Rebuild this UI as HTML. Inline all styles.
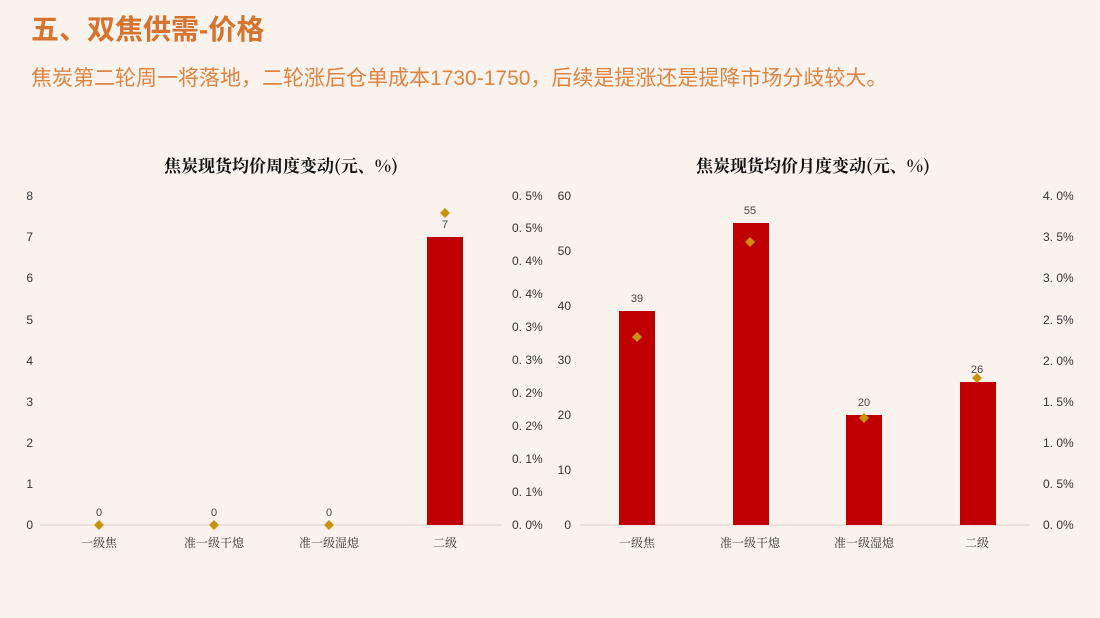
<!DOCTYPE html>
<html><head><meta charset="utf-8"><style>
body{margin:0;width:1100px;height:618px;background:#FAF2EC;overflow:hidden;font-family:"Liberation Sans","Noto Sans CJK SC",sans-serif;}
.h1{position:absolute;left:31px;top:8px;font-size:28px;font-weight:bold;color:#D5732F;}
.h2{position:absolute;left:31px;top:62px;font-size:21px;color:#DE8443;}
svg{position:absolute;left:0;top:0}
</style></head><body>
<div class="h1">五、双焦供需-价格</div>
<div class="h2">焦炭第二轮周一将落地，二轮涨后仓单成本1730-1750，后续是提涨还是提降市场分歧较大。</div>
<svg width="1100" height="618" font-family="Liberation Sans, Noto Sans CJK SC, sans-serif">
<g font-family="Noto Serif CJK SC, serif" font-weight="bold" font-size="17" fill="#111" text-anchor="middle">
<text x="281" y="172">焦炭现货均价周度变动(元、%)</text>
<text x="813" y="172">焦炭现货均价月度变动(元、%)</text>
</g>
<g font-size="12" fill="#333" text-anchor="end">
<text x="33" y="529">0</text><text x="33" y="488">1</text><text x="33" y="447">2</text><text x="33" y="406">3</text><text x="33" y="365">4</text><text x="33" y="324">5</text><text x="33" y="282">6</text><text x="33" y="241">7</text><text x="33" y="200">8</text>
<text x="571" y="529">0</text><text x="571" y="474">10</text><text x="571" y="419">20</text><text x="571" y="364">30</text><text x="571" y="310">40</text><text x="571" y="255">50</text><text x="571" y="200">60</text>
</g>
<g font-size="12" fill="#333">
<text x="512" y="529">0. 0%</text><text x="512" y="496">0. 1%</text><text x="512" y="463">0. 1%</text><text x="512" y="430">0. 2%</text><text x="512" y="397">0. 2%</text><text x="512" y="364">0. 3%</text><text x="512" y="331">0. 3%</text><text x="512" y="298">0. 4%</text><text x="512" y="265">0. 4%</text><text x="512" y="232">0. 5%</text><text x="512" y="200">0. 5%</text>
<text x="1043" y="529">0. 0%</text><text x="1043" y="488">0. 5%</text><text x="1043" y="447">1. 0%</text><text x="1043" y="406">1. 5%</text><text x="1043" y="365">2. 0%</text><text x="1043" y="324">2. 5%</text><text x="1043" y="282">3. 0%</text><text x="1043" y="241">3. 5%</text><text x="1043" y="200">4. 0%</text>
</g>
<line x1="40" y1="525" x2="502" y2="525" stroke="#d9d0ca"/>
<line x1="580" y1="525" x2="1030" y2="525" stroke="#d9d0ca"/>
<g fill="#C00000">
<rect x="427" y="237" width="36" height="288"/>
<rect x="619" y="311" width="36" height="214"/>
<rect x="733" y="223" width="36" height="302"/>
<rect x="846" y="415" width="36" height="110"/>
<rect x="960" y="382" width="36" height="143"/>
</g>
<g fill="#C9920E">
<path d="M99 520l5 5-5 5-5-5z"/><path d="M214 520l5 5-5 5-5-5z"/><path d="M329 520l5 5-5 5-5-5z"/><path d="M445 208l5 5-5 5-5-5z"/>
<path d="M637 332l5 5-5 5-5-5z"/><path d="M750 237l5 5-5 5-5-5z"/><path d="M864 413l5 5-5 5-5-5z"/><path d="M977 373l5 5-5 5-5-5z"/>
</g>
<g font-size="11" fill="#444" text-anchor="middle">
<text x="99" y="516">0</text><text x="214" y="516">0</text><text x="329" y="516">0</text><text x="445" y="228">7</text>
<text x="637" y="302">39</text><text x="750" y="214">55</text><text x="864" y="406">20</text><text x="977" y="373">26</text>
</g>
<g font-size="12" fill="#333" text-anchor="middle" font-family="Noto Serif CJK SC, serif">
<text x="99" y="547">一级焦</text><text x="214" y="547">准一级干熄</text><text x="329" y="547">准一级湿熄</text><text x="445" y="547">二级</text>
<text x="637" y="547">一级焦</text><text x="750" y="547">准一级干熄</text><text x="864" y="547">准一级湿熄</text><text x="977" y="547">二级</text>
</g>
</svg>
</body></html>
